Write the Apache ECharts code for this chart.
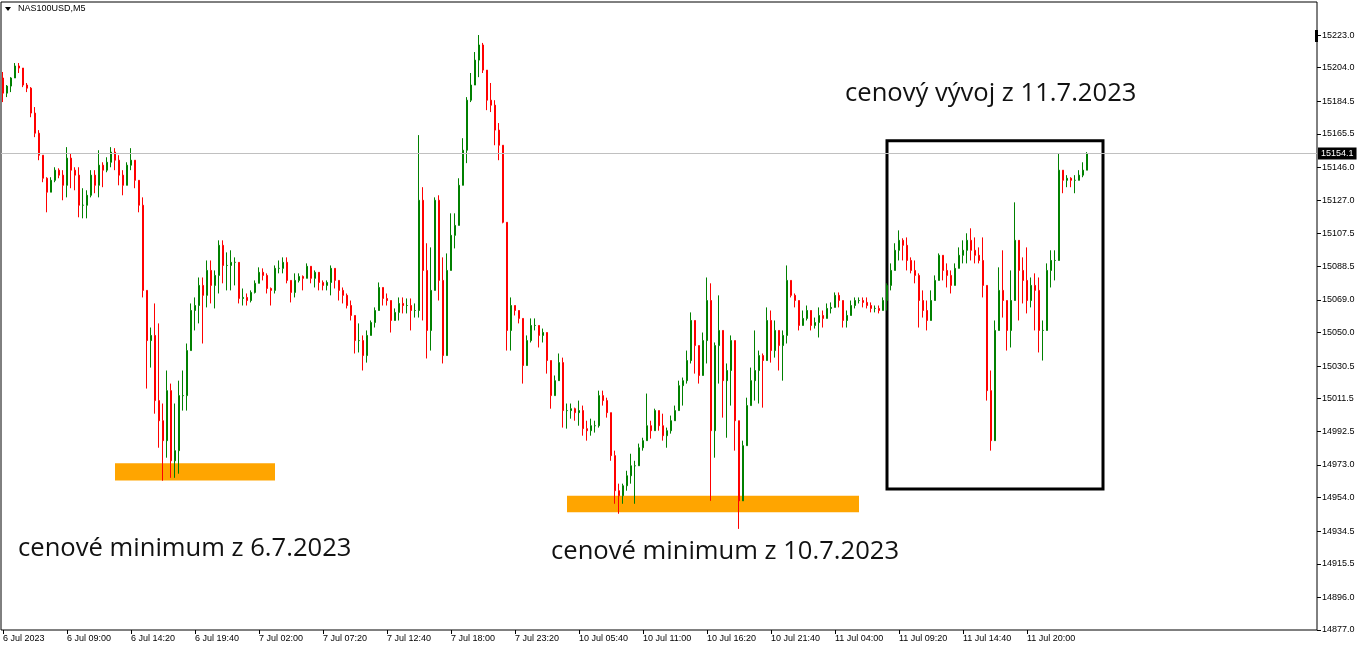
<!DOCTYPE html>
<html><head><meta charset="utf-8">
<script src="https://cdn.jsdelivr.net/npm/echarts@6/dist/echarts.min.js"></script>
<style>html,body{margin:0;padding:0;background:#fff}#c{width:1362px;height:652px}</style>
</head><body><div id="c"></div><script>
// ---- data (20-minute aggregation of the NAS100USD M5 chart) ----
const symbolTitle = 'NAS100USD,M5';
const firstOpen = 15198.0;
const closes = [
15189.2,15193.3,15198.0,15205.0,15203.8,15193.9,15192.1,15177.6,15165.9,15153.1,
15139.7,15131.6,15138.5,15144.4,15141.5,15135.6,15151.4,15144.4,15141.5,15124.0,
15124.0,15129.8,15141.5,15135.6,15147.3,15144.4,15149.0,15154.9,15150.2,15141.5,
15135.6,15147.3,15150.2,15138.5,15124.0,15074.5,15045.3,15048.3,15010.4,14998.7,
14987.1,15016.2,14975.4,14981.3,15013.3,15013.3,15039.5,15062.8,15065.7,15077.4,
15071.6,15086.1,15077.4,15083.2,15100.7,15089.0,15089.0,15090.8,15090.8,15069.8,
15070.4,15068.6,15073.3,15078.6,15085.0,15083.2,15075.6,15074.5,15087.3,15087.3,
15090.8,15080.3,15073.3,15080.3,15082.6,15081.5,15088.5,15081.5,15085.0,15079.1,
15077.4,15079.1,15087.3,15080.3,15074.5,15071.6,15065.7,15059.9,15045.3,15045.3,
15036.6,15048.3,15055.8,15062.8,15076.2,15069.8,15068.6,15057.0,15061.7,15066.9,
15065.7,15065.7,15062.8,15062.8,15126.9,15086.1,15051.2,15074.5,15126.9,15080.3,
15036.6,15086.1,15106.5,15112.3,15135.6,15156.0,15185.1,15193.9,15208.4,15217.2,
15202.6,15185.1,15182.2,15167.7,15158.9,15114.1,15051.2,15065.7,15062.8,15058.2,
15030.8,15045.3,15054.1,15054.1,15048.3,15050.0,15033.7,15013.3,15022.0,15032.5,
15004.6,15004.6,15005.7,15003.4,15004.6,14994.1,14992.9,14995.8,14995.8,15013.3,
15010.4,15003.4,14978.4,14958.0,14955.1,14960.9,14966.7,14972.5,14972.5,14983.0,
14987.1,14995.8,14992.9,15004.6,14995.8,14990.0,14992.9,14998.7,15004.6,15019.1,
15022.0,15033.7,15057.0,15042.4,15025.0,15045.3,15068.6,14992.9,15042.4,15051.2,
15022.0,15027.9,15045.3,14998.7,14952.1,14984.2,15007.5,15022.0,15027.9,15036.6,
15033.7,15057.0,15039.5,15051.2,15042.4,15048.3,15080.3,15071.6,15068.6,15054.1,
15058.2,15062.8,15054.1,15055.8,15059.9,15058.2,15064.0,15064.6,15071.6,15068.6,
15057.0,15059.9,15065.7,15068.6,15068.6,15067.5,15065.7,15064.0,15064.0,15062.8,
15068.6,15077.4,15086.1,15097.8,15103.6,15100.7,15091.9,15086.1,15083.2,15068.6,
15062.8,15057.0,15068.6,15080.3,15094.9,15086.1,15083.2,15077.4,15087.3,15094.9,
15097.8,15103.6,15097.8,15094.9,15091.9,15077.4,15016.2,14987.1,15051.2,15074.5,
15068.6,15051.2,15068.6,15103.6,15086.1,15080.3,15068.6,15077.4,15074.5,15051.2,
15051.2,15086.1,15091.9,15091.9,15144.4,15138.5,15139.7,15138.5,15138.5,15141.5,
15144.4,15154.1];
const highs = [
15201.5,15193.9,15198.5,15206.7,15206.7,15203.8,15195.1,15192.7,15181.1,15167.7,
15151.4,15140.3,15140.3,15146.1,15145.5,15144.4,15157.8,15154.3,15146.1,15146.1,
15133.9,15132.7,15144.4,15144.4,15156.0,15149.0,15151.9,15157.8,15157.2,15153.1,
15144.4,15149.0,15157.2,15148.5,15134.5,15128.6,15074.5,15052.9,15066.9,15055.3,
15008.7,15027.9,15020.3,15008.7,15022.0,15027.9,15043.6,15066.9,15070.4,15082.0,
15082.0,15091.9,15091.9,15086.1,15103.6,15103.6,15096.6,15097.8,15093.7,15082.0,
15075.6,15072.7,15074.5,15080.3,15087.9,15087.3,15084.4,15076.2,15089.0,15091.9,
15093.7,15093.7,15076.2,15084.4,15084.4,15083.2,15090.2,15087.9,15086.1,15084.4,
15080.3,15080.3,15089.0,15087.3,15079.1,15076.2,15072.7,15068.6,15058.7,15055.3,
15048.3,15051.2,15057.0,15064.6,15079.1,15073.3,15072.7,15066.9,15064.0,15070.4,
15070.4,15069.8,15069.8,15066.9,15164.8,15134.5,15101.9,15099.5,15128.6,15129.8,
15093.7,15096.0,15119.3,15119.3,15139.7,15163.0,15186.9,15200.9,15213.1,15223.0,
15218.4,15195.1,15195.1,15185.1,15171.8,15142.6,15113.5,15070.4,15065.7,15062.8,
15055.3,15048.3,15058.2,15058.2,15052.9,15052.3,15046.5,15029.6,15025.0,15037.8,
15035.4,15008.7,15008.7,15006.3,15010.4,15007.5,14998.7,14999.9,14998.7,15016.2,
15016.2,15012.1,15002.8,14981.3,14962.1,14962.1,14969.6,14979.5,14975.4,14985.4,
14988.8,15014.5,14998.7,15005.7,15004.6,15002.8,14994.7,15001.7,15007.5,15022.0,
15023.8,15039.5,15061.7,15052.9,15029.6,15050.0,15082.0,15078.6,15044.2,15071.6,
15038.4,15032.0,15048.3,15012.1,14991.2,14987.1,15012.1,15029.6,15051.2,15039.5,
15037.8,15064.6,15062.8,15057.0,15049.4,15051.2,15089.0,15078.6,15072.7,15066.9,
15062.8,15065.7,15058.7,15058.7,15064.6,15062.8,15066.9,15067.5,15073.3,15073.3,
15062.8,15062.8,15068.6,15070.4,15070.4,15070.4,15070.4,15067.5,15065.7,15065.7,
15070.4,15078.6,15090.2,15101.9,15109.4,15104.8,15105.3,15093.7,15091.9,15084.4,
15074.5,15068.6,15074.5,15083.2,15096.0,15093.7,15090.2,15086.1,15090.2,15099.5,
15103.6,15107.7,15110.6,15105.3,15099.5,15105.3,15055.3,15027.9,15057.0,15087.9,
15097.8,15064.6,15086.1,15125.7,15103.6,15093.7,15099.5,15082.0,15084.4,15082.0,
15057.0,15090.2,15097.8,15097.8,15154.3,15142.6,15141.5,15140.3,15141.5,15144.4,
15149.0,15154.9];
const lows = [
15184.0,15186.9,15189.8,15199.7,15200.9,15192.7,15189.8,15175.2,15163.6,15150.2,
15137.4,15119.9,15132.7,15137.4,15139.7,15126.9,15128.6,15133.9,15132.7,15117.0,
15116.4,15116.4,15128.6,15131.0,15128.6,15134.5,15143.2,15146.1,15144.4,15135.6,
15129.8,15138.5,15144.4,15133.9,15119.9,15070.4,15017.4,15029.6,15002.8,14983.0,
14963.8,14977.2,14965.5,14965.5,14967.9,15004.6,15004.6,15039.5,15051.2,15055.3,
15043.6,15064.6,15066.9,15064.0,15072.7,15078.6,15074.5,15074.5,15077.4,15066.9,
15065.7,15065.7,15067.5,15072.7,15078.6,15080.3,15072.7,15065.7,15072.7,15084.4,
15084.4,15078.6,15067.5,15070.4,15079.1,15074.5,15082.0,15078.6,15076.2,15074.5,
15074.5,15074.5,15071.6,15075.6,15068.6,15066.9,15064.0,15057.0,15037.8,15038.4,
15027.9,15032.5,15048.3,15052.9,15064.6,15065.7,15065.7,15050.0,15057.0,15057.0,
15061.1,15061.1,15051.2,15058.7,15058.7,15057.0,15034.9,15039.5,15076.2,15068.6,
15032.0,15045.3,15097.8,15098.9,15113.5,15138.5,15148.5,15184.0,15199.7,15198.5,
15200.9,15179.3,15178.2,15158.9,15150.2,15113.5,15039.5,15039.5,15059.9,15055.3,
15020.3,15035.4,15044.2,15051.2,15041.3,15044.2,15026.1,15005.7,15014.5,15026.1,
14994.7,14994.1,14999.9,14998.7,14995.8,14990.0,14987.1,14990.0,14991.8,14994.7,
15007.5,15000.5,14975.4,14950.4,14944.6,14950.4,14958.0,14962.1,14950.4,14975.4,
14981.3,14987.1,14988.3,14992.9,14992.9,14987.1,14983.0,14991.2,14998.7,15008.7,
15007.5,15020.3,15032.0,15026.1,15020.3,15032.0,15032.0,14952.1,14977.2,15020.3,
15000.5,14988.8,15007.5,14981.3,14935.8,14958.0,14987.1,15008.7,15010.4,15008.7,
15006.3,15034.9,15032.5,15035.4,15027.9,15022.0,15043.6,15070.4,15064.6,15051.2,
15055.3,15057.0,15051.2,15052.3,15047.1,15052.9,15058.7,15061.1,15064.6,15064.6,
15052.9,15052.9,15061.1,15064.0,15066.9,15064.6,15064.0,15061.7,15061.7,15061.1,
15062.8,15062.8,15074.5,15086.1,15091.9,15091.9,15086.1,15084.4,15078.6,15052.9,
15058.7,15051.2,15058.7,15068.6,15086.1,15080.3,15076.2,15072.7,15082.0,15090.2,
15090.2,15090.2,15091.9,15090.2,15090.2,15070.4,15010.4,14981.3,15022.0,15061.1,
15058.7,15039.5,15041.3,15090.2,15057.0,15066.9,15061.1,15064.6,15051.2,15038.4,
15033.7,15062.8,15076.2,15080.3,15109.4,15131.0,15134.5,15134.5,15131.0,15139.7,
15140.3,15149.0];
const timeLabels = ['6 Jul 2023','6 Jul 09:00','6 Jul 14:20','6 Jul 19:40','7 Jul 02:00','7 Jul 07:20',
  '7 Jul 12:40','7 Jul 18:00','7 Jul 23:20','10 Jul 05:40','10 Jul 11:00','10 Jul 16:20',
  '10 Jul 21:40','11 Jul 04:00','11 Jul 09:20','11 Jul 14:40','11 Jul 20:00'];
const priceTicks = [14877.0,14896.0,14915.5,14934.5,14954.0,14973.0,14992.5,15011.5,15030.5,
  15050.0,15069.0,15088.5,15107.5,15127.0,15146.0,15165.5,15184.5,15204.0,15223.0];
const lastPrice = 15154.1;
const annotations = [
  {text:'cenové minimum z 6.7.2023', from:28, to:68, low:14964, high:14974},
  {text:'cenové minimum z 10.7.2023', from:141, to:214, low:14945.5, high:14955}
];
const boxRange = {text:'cenový vývoj z 11.7.2023', from:221, to:275, low:14959, high:15161.5};
const slotsPerLabel = 16;   // one label every 16 candles
const slotCount = 329;      // chart capacity incl. right shift
// ---------------------------------------------------------------

const slots = Array.from({length: slotCount}, (_, i) => i);
const candles = closes.map((c, i) => {
  const o = i === 0 ? firstOpen : closes[i - 1];
  return [o, c, Math.min(lows[i], o, c), Math.max(highs[i], o, c)];
});

const chart = echarts.init(document.getElementById('c'), null, {renderer: 'canvas'});
const axisFont = {fontFamily: 'Liberation Sans', fontSize: 9, color: '#000'};
const showSlot = (idx) => idx % slotsPerLabel === 0 && idx / slotsPerLabel < timeLabels.length;
const noteFont = '500 25.6px "Open Sans"';

chart.setOption({
  animation: false,
  backgroundColor: '#fff',
  grid: {left: 1, top: 2, right: 45, bottom: 22, show: true, borderColor: '#000', borderWidth: 1, backgroundColor: 'transparent'},
  xAxis: {
    type: 'category', data: slots, boundaryGap: true,
    axisLine: {show: false},
    axisTick: {show: true, alignWithLabel: true, interval: (i) => showSlot(i), length: 4, lineStyle: {color: '#000'}},
    axisLabel: Object.assign({interval: (i) => showSlot(i), align: 'left', margin: 4,
      formatter: (v, i) => timeLabels[i / slotsPerLabel] || ''}, axisFont),
    splitLine: {show: false}
  },
  yAxis: {
    type: 'value', position: 'right', min: 14877, max: 15242.2, scale: true,
    axisLine: {show: false},
    axisTick: {show: true, length: 4, customValues: priceTicks, lineStyle: {color: '#000'}},
    axisLabel: Object.assign({customValues: priceTicks, margin: 5, formatter: (v) => v.toFixed(1)}, axisFont),
    splitLine: {show: false}
  },
  series: [{
    type: 'candlestick',
    data: candles,
    barWidth: 2,
    itemStyle: {color: '#008000', color0: '#ff0000', borderColor: '#008000', borderColor0: '#ff0000', borderWidth: 1},
    markLine: {
      silent: true, symbol: 'none', animation: false,
      lineStyle: {color: '#c0c0c0', width: 1, type: 'solid'},
      label: {show: true, position: 'end', distance: 1, formatter: lastPrice.toFixed(1),
        backgroundColor: '#000', color: '#fff', fontFamily: 'Liberation Sans', fontSize: 9, padding: [2, 3, 1, 3]},
      data: [{yAxis: lastPrice}]
    },
    markArea: {
      silent: true,
      data: annotations.map(a => [
        {xAxis: a.from, yAxis: a.high, itemStyle: {color: '#ffa500'}},
        {xAxis: a.to, yAxis: a.low}
      ]).concat([[
        {xAxis: boxRange.from, yAxis: boxRange.high, itemStyle: {color: 'rgba(0,0,0,0)', borderColor: '#000', borderWidth: 3}},
        {xAxis: boxRange.to, yAxis: boxRange.low}
      ]])
    }
  }],
  graphic: [
    {type: 'polygon', shape: {points: [[5, 7], [11, 7], [8, 11]]}, style: {fill: '#000'}},
    {type: 'text', left: 18, top: 4, style: {text: symbolTitle, font: '9px "Liberation Sans"', fill: '#000'}},
    {type: 'rect', shape: {x: 1315, y: 30, width: 3, height: 12}, style: {fill: '#000'}},
    {type: 'text', x: 18, y: 549, style: {text: annotations[0].text, font: noteFont, fill: '#111', textVerticalAlign: 'middle'}},
    {type: 'text', x: 551, y: 552, style: {text: annotations[1].text, font: noteFont, fill: '#111', textVerticalAlign: 'middle'}},
    {type: 'text', x: 845, y: 94, style: {text: boxRange.text, font: noteFont, fill: '#111', textVerticalAlign: 'middle'}}
  ]
});
</script></body></html>
